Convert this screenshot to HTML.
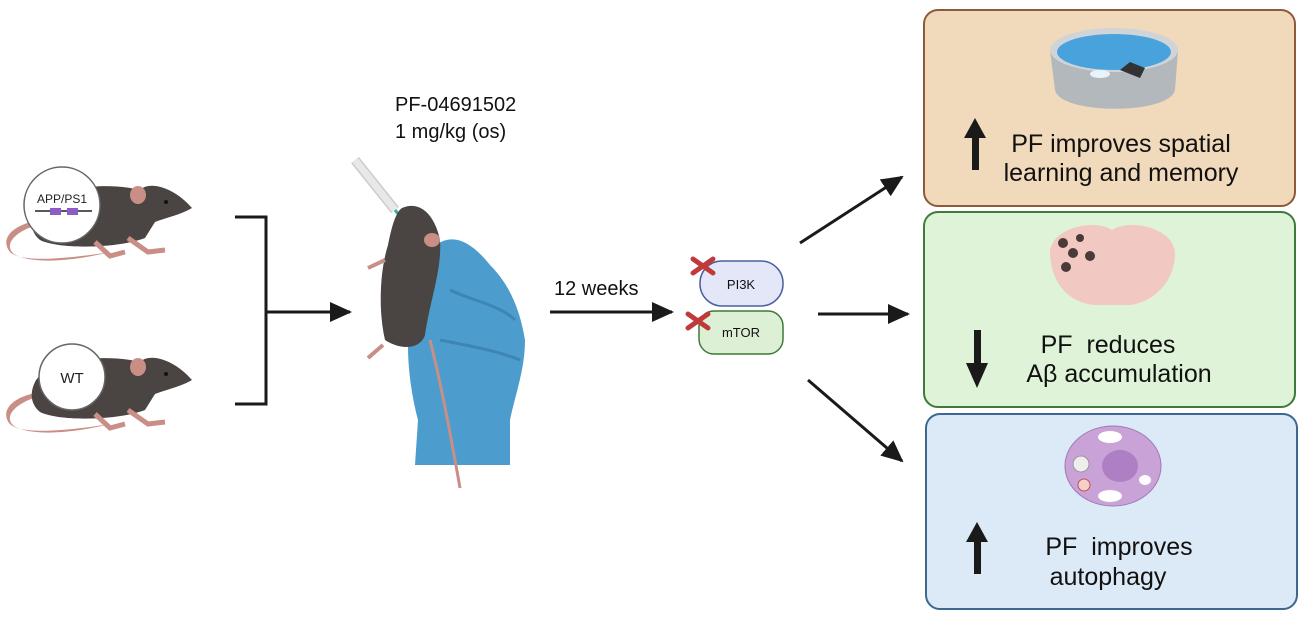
<!DOCTYPE html>
<html><head><meta charset="utf-8"><style>
html,body{margin:0;padding:0;background:#fff;}
svg{display:block;font-family:"Liberation Sans",Arial,sans-serif;}
</style></head><body>
<svg width="1303" height="617" viewBox="0 0 1303 617" xmlns="http://www.w3.org/2000/svg">
<defs>
<marker id="ah2" markerWidth="22" markerHeight="20" refX="20" refY="10" orient="auto" markerUnits="userSpaceOnUse"><path d="M0,0 L22,10 L0,20 z" fill="#1a1a1a"/></marker>
<g id="mouse">
<path d="M40,40 C10,45 0,60 10,72 C20,82 60,80 110,72 C70,82 30,84 14,74 C4,66 12,52 40,44z" fill="#c98f86"/>
<path d="M35,30 C45,10 100,0 140,10 C150,0 175,8 192,28 C180,35 165,38 155,42 L145,58 C120,68 60,70 40,60 C30,52 30,40 35,30z" fill="#4a4442"/>
<ellipse cx="138" cy="15" rx="8" ry="9" fill="#c98f86"/>
<circle cx="166" cy="22" r="2" fill="#111"/>
<path d="M95,62 L110,76 L125,72 M128,58 L148,72 L165,70" stroke="#c98f86" stroke-width="5" fill="none"/>
</g>
</defs>

<use href="#mouse" x="0" y="180"/>
<circle cx="62" cy="205" r="38" fill="#fff" stroke="#666" stroke-width="1.5"/>
<text x="62" y="203" font-size="12" text-anchor="middle" fill="#222">APP/PS1</text>
<line x1="35" y1="211" x2="92" y2="211" stroke="#222" stroke-width="1.5"/>
<rect x="50" y="208" width="11" height="7" fill="#8d5cc6"/>
<rect x="67" y="208" width="11" height="7" fill="#8d5cc6"/>

<use href="#mouse" x="0" y="352"/>
<circle cx="72" cy="377" r="33" fill="#fff" stroke="#666" stroke-width="1.5"/>
<text x="72" y="383" font-size="15" text-anchor="middle" fill="#222">WT</text>

<path d="M235,217 L266,217 L266,404 L235,404" stroke="#1a1a1a" stroke-width="3" fill="none"/>
<line x1="266" y1="312" x2="350" y2="312" stroke="#1a1a1a" stroke-width="3" marker-end="url(#ah2)"/>

<text x="395" y="111" font-size="20" fill="#111">PF-04691502</text>
<text x="395" y="138" font-size="20" fill="#111">1 mg/kg (os)</text>

<line x1="355" y1="160" x2="395" y2="210" stroke="#ccc" stroke-width="10"/>
<line x1="355" y1="160" x2="395" y2="210" stroke="#e8e8e8" stroke-width="7"/>
<line x1="395" y1="210" x2="405" y2="222" stroke="#3aa" stroke-width="3"/>

<path d="M430,250 C450,230 470,240 490,265 C510,285 520,310 525,340 C525,370 515,395 510,420 L510,465 L415,465 L418,420 C410,390 405,350 410,320 C412,290 418,265 430,250z" fill="#4c9ccd"/>
<path d="M450,290 C470,300 500,305 515,320 M440,340 C465,345 495,350 520,360" stroke="#3d85b5" stroke-width="3" fill="none"/>
<path d="M402,208 C420,200 435,215 440,240 C442,270 430,300 425,335 C420,350 400,350 385,340 C378,310 380,270 388,245 C392,225 396,212 402,208z" fill="#4a4442"/>
<path d="M385,260 L368,268 M383,345 L368,358" stroke="#c98f86" stroke-width="4"/>
<ellipse cx="432" cy="240" rx="8" ry="7" fill="#c98f86"/>
<path d="M430,340 C440,380 448,420 460,488" stroke="#c98f86" stroke-width="3" fill="none"/>

<text x="554" y="295" font-size="20" fill="#111">12 weeks</text>
<line x1="550" y1="312" x2="672" y2="312" stroke="#1a1a1a" stroke-width="3" marker-end="url(#ah2)"/>

<rect x="700" y="261" width="83" height="45" rx="22" fill="#e3e7f8" stroke="#4d5f9e" stroke-width="1.5"/>
<text x="741" y="289" font-size="13" text-anchor="middle" fill="#111">PI3K</text>
<rect x="699" y="311" width="84" height="43" rx="15" fill="#ddf0d6" stroke="#3d7a34" stroke-width="1.5"/>
<text x="741" y="337" font-size="13" text-anchor="middle" fill="#111">mTOR</text>
<g stroke="#c0393b" stroke-width="5" stroke-linecap="round">
<line x1="693" y1="259" x2="713" y2="273"/><line x1="693" y1="273" x2="713" y2="259"/>
<line x1="688" y1="314" x2="708" y2="328"/><line x1="688" y1="328" x2="708" y2="314"/>
</g>

<line x1="800" y1="243" x2="902" y2="177" stroke="#1a1a1a" stroke-width="3" marker-end="url(#ah2)"/>
<line x1="818" y1="314" x2="908" y2="314" stroke="#1a1a1a" stroke-width="3" marker-end="url(#ah2)"/>
<line x1="808" y1="380" x2="902" y2="461" stroke="#1a1a1a" stroke-width="3" marker-end="url(#ah2)"/>

<rect x="924" y="10" width="371" height="196" rx="14" fill="#f1d9bb" stroke="#8e5a3a" stroke-width="2"/>
<rect x="924" y="212" width="371" height="195" rx="14" fill="#dff3d8" stroke="#3f7a3a" stroke-width="2"/>
<rect x="926" y="414" width="371" height="195" rx="14" fill="#dce9f6" stroke="#3e6890" stroke-width="2"/>

<path d="M1050,50 L1055,90 C1060,115 1170,115 1175,90 L1178,50z" fill="#b3b8bd"/>
<ellipse cx="1114" cy="50" rx="64" ry="22" fill="#d0d4d8"/>
<ellipse cx="1114" cy="52" rx="57" ry="18" fill="#48a3dc"/>
<ellipse cx="1100" cy="74" rx="10" ry="4" fill="#e8f4fb"/>
<path d="M1120,70 L1140,78 L1145,68 L1130,62z" fill="#333"/>

<path d="M1050,255 C1048,228 1095,218 1112,230 C1130,218 1176,228 1175,255 C1174,285 1150,303 1130,305 L1095,305 C1070,303 1052,285 1050,255z" fill="#f2c8c2"/>
<g fill="#4a3a38"><circle cx="1063" cy="243" r="5"/><circle cx="1080" cy="238" r="4"/><circle cx="1073" cy="253" r="5"/><circle cx="1090" cy="256" r="5"/><circle cx="1066" cy="267" r="5"/></g>

<ellipse cx="1113" cy="466" rx="48" ry="40" fill="#c9a3d8" stroke="#a07ab4" stroke-width="1"/>
<ellipse cx="1120" cy="466" rx="18" ry="16" fill="#ae7fc3"/>
<ellipse cx="1110" cy="437" rx="12" ry="6" fill="#fff"/>
<ellipse cx="1110" cy="496" rx="12" ry="6" fill="#fff"/>
<ellipse cx="1145" cy="480" rx="6" ry="5" fill="#fff"/>
<circle cx="1081" cy="464" r="8" fill="#eee" stroke="#999"/>
<circle cx="1084" cy="485" r="6" fill="#f4d0c8" stroke="#b55"/>

<g font-size="25" fill="#111" text-anchor="middle">
<text x="1121" y="152">PF improves spatial</text>
<text x="1121" y="181">learning and memory</text>
<text x="1108" y="353">PF&#160; reduces</text>
<text x="1119" y="382">Aβ accumulation</text>
<text x="1119" y="555">PF&#160; improves</text>
<text x="1108" y="585">autophagy</text>
</g>
<g fill="#1a1a1a">
<rect x="972" y="135" width="7" height="35"/><path d="M964,138 L975,118 L986,138z"/>
<rect x="974" y="330" width="7" height="36"/><path d="M966,363 L977,388 L988,363z"/>
<rect x="974" y="538" width="7" height="36"/><path d="M966,542 L977,522 L988,542z"/>
</g>
</svg>
</body></html>
